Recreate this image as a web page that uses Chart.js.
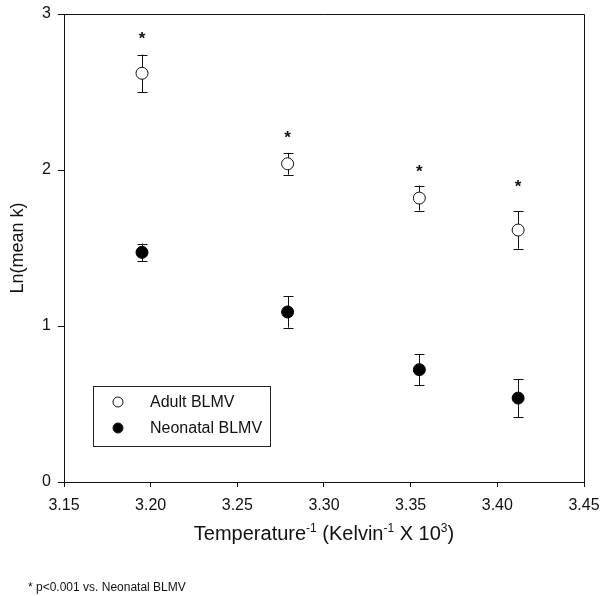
<!DOCTYPE html>
<html>
<head>
<meta charset="utf-8">
<script src="https://cdn.jsdelivr.net/npm/chart.js@4.4.1/dist/chart.umd.min.js"></script>
<style>
  html, body { margin: 0; padding: 0; background: #fff; }
  #wrap { width: 603px; height: 596px; }
</style>
</head>
<body>
<div id="wrap"><canvas id="grafico_ln_k"></canvas></div>
<script>
// inverse temperature (1/K x 10^3)
var temps = [3.195, 3.279, 3.355, 3.412];
var adultMean = [2.62, 2.04, 1.82, 1.615];
var adultErr = [0.12, 0.07, 0.08, 0.12];
var neoMean = [1.472, 1.09, 0.72, 0.538];
var neoErr = [0.056, 0.10, 0.10, 0.123];
// where the "*" marks sit
var sigY = [2.865, 2.23, 2.01, 1.915];
var xTicks = [3.15, 3.20, 3.25, 3.30, 3.35, 3.40, 3.45];
var yTicks = [0, 1, 2, 3];

var FONT = "'Liberation Sans', Arial, sans-serif";

function pts(ys) {
    return temps.map(function (t, i) { return { x: t, y: ys[i] }; });
}

var errorBars = {
    id: "errorBars",
    beforeDatasetsDraw: function (chart) {
        var ctx = chart.ctx, xs = chart.scales.x, ys = chart.scales.y;
        ctx.save();
        ctx.strokeStyle = "#111";
        ctx.lineWidth = 1;
        [[adultMean, adultErr], [neoMean, neoErr]].forEach(function (s) {
            temps.forEach(function (t, i) {
                var px = Math.round(xs.getPixelForValue(t)) + 0.5;
                var top = ys.getPixelForValue(s[0][i] + s[1][i]);
                var bot = ys.getPixelForValue(s[0][i] - s[1][i]);
                ctx.beginPath();
                ctx.moveTo(px, top); ctx.lineTo(px, bot);
                ctx.moveTo(px - 5, Math.round(top) + 0.5); ctx.lineTo(px + 5, Math.round(top) + 0.5);
                ctx.moveTo(px - 5, Math.round(bot) + 0.5); ctx.lineTo(px + 5, Math.round(bot) + 0.5);
                ctx.stroke();
            });
        });
        ctx.restore();
    },
    afterDraw: function (chart) {
        var ctx = chart.ctx, xs = chart.scales.x, ys = chart.scales.y;
        var a = chart.chartArea;
        ctx.save();
        // frame top and right
        ctx.strokeStyle = "#111";
        ctx.lineWidth = 1;
        ctx.beginPath();
        ctx.moveTo(a.left, a.top + 0.5); ctx.lineTo(a.right + 0.5, a.top + 0.5);
        ctx.lineTo(a.right + 0.5, a.bottom);
        ctx.stroke();

        // significance marks
        ctx.fillStyle = "#111";
        ctx.font = "bold 17px " + FONT;
        ctx.textAlign = "center";
        ctx.textBaseline = "middle";
        temps.forEach(function (t, i) {
            ctx.fillText("*", xs.getPixelForValue(t), ys.getPixelForValue(sigY[i]) + 4);
        });

        // legend box
        var lx = 93, ly = 386, lw = 177, lh = 60;
        ctx.lineWidth = 1;
        ctx.strokeStyle = "#222";
        ctx.strokeRect(lx + 0.5, ly + 0.5, lw, lh);
        ctx.font = "16px " + FONT;
        ctx.textAlign = "left";
        chart.data.datasets.forEach(function (ds, i) {
            var cy = ly + 16 + i * 26;
            ctx.beginPath();
            ctx.arc(lx + 25, cy, 5, 0, Math.PI * 2);
            ctx.fillStyle = ds.pointBackgroundColor;
            ctx.fill();
            ctx.strokeStyle = "#111";
            ctx.stroke();
            ctx.fillStyle = "#111";
            ctx.fillText(ds.label, lx + 57, cy + 1);
        });

        // x axis title with superscripts
        var cx = (a.left + a.right) / 2;
        var ty = 533;
        var parts = [
            ["Temperature", 0], ["-1", 1], [" (Kelvin", 0], ["-1", 1], [" X 10", 0], ["3", 1], [")", 0]
        ];
        var big = "20px " + FONT, small = "12px " + FONT;
        var total = 0;
        parts.forEach(function (p) {
            ctx.font = p[1] ? small : big;
            total += ctx.measureText(p[0]).width;
        });
        var x = cx - total / 2;
        ctx.textBaseline = "alphabetic";
        parts.forEach(function (p) {
            ctx.font = p[1] ? small : big;
            ctx.fillText(p[0], x, p[1] ? ty - 1 : ty + 7);
            x += ctx.measureText(p[0]).width;
        });

        // footnote
        ctx.font = "12px " + FONT;
        ctx.textBaseline = "middle";
        ctx.fillText("* p<0.001 vs. Neonatal BLMV", 28, 588);
        ctx.restore();
    }
};

var ctx = document.getElementById("grafico_ln_k").getContext("2d");
var myChart = new Chart(ctx, {
    type: "scatter",
    data: {
        datasets: [
            {
                label: "Adult BLMV",
                data: pts(adultMean),
                pointBackgroundColor: "#ffffff",
                pointBorderColor: "#111",
                pointBorderWidth: 1,
                pointRadius: 6,
            },
            {
                label: "Neonatal BLMV",
                data: pts(neoMean),
                pointBackgroundColor: "#000000",
                pointBorderColor: "#000",
                pointBorderWidth: 1,
                pointRadius: 6,
            },
        ],
    },
    options: {
        responsive: true,
        maintainAspectRatio: false,
        animation: false,
        layout: { padding: { top: 14, right: 19, bottom: 0, left: 7 } },
        plugins: {
            legend: { display: false },
            tooltip: { enabled: false },
        },
        scales: {
            x: {
                type: "linear",
                min: 3.15,
                max: 3.45,
                afterBuildTicks: function (s) {
                    s.ticks = xTicks.map(function (v) { return { value: v }; });
                },
                afterFit: function (s) {
                    s.height = 114;
                    s.paddingLeft = 0; s.paddingRight = 0;
                },
                grid: { drawOnChartArea: false, color: "#111", tickLength: 5, tickColor: "#111" },
                border: { color: "#111", width: 1 },
                ticks: {
                    color: "#111",
                    font: { family: FONT, size: 16 },
                    padding: 9,
                    maxRotation: 0,
                    callback: function (v) { return v.toFixed(2); },
                },
            },
            y: {
                min: 0,
                max: 3,
                afterBuildTicks: function (s) {
                    s.ticks = yTicks.map(function (v) { return { value: v }; });
                },
                afterFit: function (s) {
                    s.width = 57;
                    s.paddingTop = 0; s.paddingBottom = 0;
                },
                grid: { drawOnChartArea: false, color: "#111", tickLength: 6, tickColor: "#111" },
                border: { color: "#111", width: 1 },
                ticks: {
                    color: "#111",
                    font: { family: FONT, size: 16 },
                    padding: 7,
                },
                title: {
                    display: true,
                    text: "Ln(mean k)",
                    color: "#111",
                    font: { family: FONT, size: 18 },
                    padding: { top: 0, bottom: 2 },
                },
            },
        },
    },
    plugins: [errorBars],
});
</script>
</body>
</html>
